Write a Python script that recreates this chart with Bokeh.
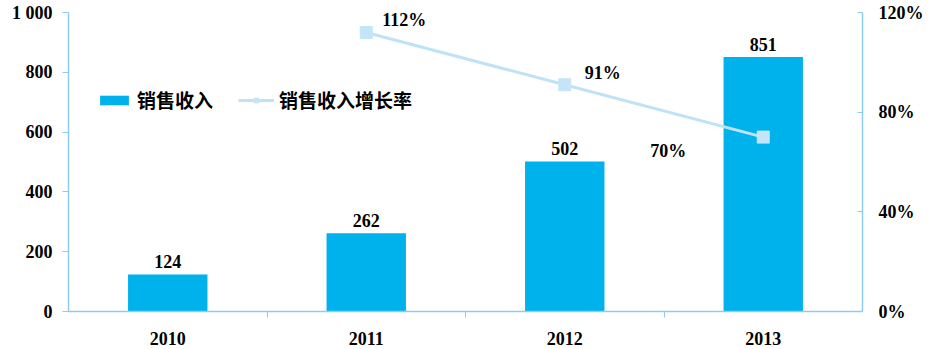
import numpy as np
from bokeh.plotting import figure
from bokeh.models import (ColumnDataSource, Range1d, LinearAxis, FixedTicker,
                          Legend, LegendItem, PrintfTickFormatter)
from bokeh.core.properties import value
from bokeh.embed import file_html
from bokeh.resources import INLINE

# ---- data ----
years = ["2010", "2011", "2012", "2013"]
sales = [124, 262, 502, 851]
growth = [np.nan, 112, 91, 70]
growth_labels = ["", "112%", "91%", "70%"]
sales_ticks = [0, 200, 400, 600, 800, 1000]
pct_ticks = [0, 40, 80, 120]

# ---- styles ----
BAR = "#00B2EC"
LINE = "#BFE3F6"
MARK = "#C4E5F7"
AXIS = "#8ACDEE"
NUMFONT = "Liberation Serif"
CJKFONT = "Noto Sans CJK SC"
lab_dx = [0, 38, 38, -95]
lab_dy = [0, -12, -12, 14]

xs = list(range(1, len(years) + 1))
src = ColumnDataSource(dict(x=xs, sales=sales, growth=growth,
                            glab=growth_labels, slab=[str(v) for v in sales],
                            dx=lab_dx, dy=lab_dy))

p = figure(width=932, height=349, output_backend="svg", toolbar_location=None,
           x_range=Range1d(0.5, len(years) + 0.5), y_range=Range1d(0, 1000),
           min_border_left=68, min_border_right=70, min_border_top=12,
           min_border_bottom=38, background_fill_color="white",
           border_fill_color="white")
p.outline_line_color = None
p.xgrid.visible = False
p.ygrid.visible = False
p.extra_y_ranges = {"pct": Range1d(0, 120)}

bars = p.vbar(x="x", top="sales", width=0.4, source=src, fill_color=BAR,
              line_color=None)
p.text(x="x", y="sales", text="slab", source=src, y_offset=-6,
       text_align="center", text_baseline="bottom",
       text_font=value(NUMFONT), text_font_style="bold", text_font_size="18px",
       text_color="black")

ln = p.line(x="x", y="growth", source=src, y_range_name="pct",
            line_color=LINE, line_width=3)
sc = p.scatter(x="x", y="growth", source=src, y_range_name="pct",
               marker="square", size=12, fill_color=MARK, line_color=MARK)
p.text(x="x", y="growth", text="glab", source=src, y_range_name="pct",
       x_offset="dx", y_offset="dy", text_align="center",
       text_baseline="middle", text_font=value(NUMFONT),
       text_font_style="bold", text_font_size="18px", text_color="black")

# left axis
ya = p.yaxis[0]
ya.ticker = FixedTicker(ticks=sales_ticks)
ya.major_label_overrides = {1000: "1 000"}
ya.axis_line_color = AXIS
ya.axis_line_width = 1.5
ya.major_tick_line_color = AXIS
ya.major_tick_out = 6
ya.major_tick_in = 0
ya.minor_tick_line_color = None
ya.major_label_standoff = 10
ya.major_label_text_font = NUMFONT
ya.major_label_text_font_style = "bold"
ya.major_label_text_font_size = "18px"
ya.major_label_text_color = "black"

# right axis
ra = LinearAxis(y_range_name="pct", ticker=FixedTicker(ticks=pct_ticks),
                formatter=PrintfTickFormatter(format="%d%%"))
ra.axis_line_color = AXIS
ra.axis_line_width = 1.5
ra.major_tick_line_color = AXIS
ra.major_tick_in = 5
ra.major_tick_out = 0
ra.minor_tick_line_color = None
ra.major_label_standoff = 16
ra.major_label_text_font = NUMFONT
ra.major_label_text_font_style = "bold"
ra.major_label_text_font_size = "18px"
ra.major_label_text_color = "black"
p.add_layout(ra, "right")

# bottom axis
xa = p.xaxis[0]
xa.ticker = FixedTicker(ticks=xs, minor_ticks=[x + 0.5 for x in xs[:-1]])
xa.major_label_overrides = {x: y for x, y in zip(xs, years)}
xa.axis_line_color = AXIS
xa.axis_line_width = 1.5
xa.major_tick_line_color = None
xa.minor_tick_line_color = AXIS
xa.minor_tick_out = 6
xa.minor_tick_in = 0
xa.major_label_standoff = 14
xa.major_label_text_font = NUMFONT
xa.major_label_text_font_style = "bold"
xa.major_label_text_font_size = "18px"
xa.major_label_text_color = "black"

legend = Legend(items=[LegendItem(label="销售收入", renderers=[bars]),
                       LegendItem(label="销售收入增长率", renderers=[ln, sc])],
                location=(28, 198), orientation="horizontal",
                glyph_width=36, glyph_height=12, label_height=20,
                label_standoff=5, spacing=25, padding=0, margin=0,
                border_line_color=None, background_fill_alpha=0,
                label_text_font=CJKFONT, label_text_font_style="bold",
                label_text_font_size="19px", label_text_color="black")
p.add_layout(legend, "center")

open("out.html", "w").write(file_html(p, INLINE))
